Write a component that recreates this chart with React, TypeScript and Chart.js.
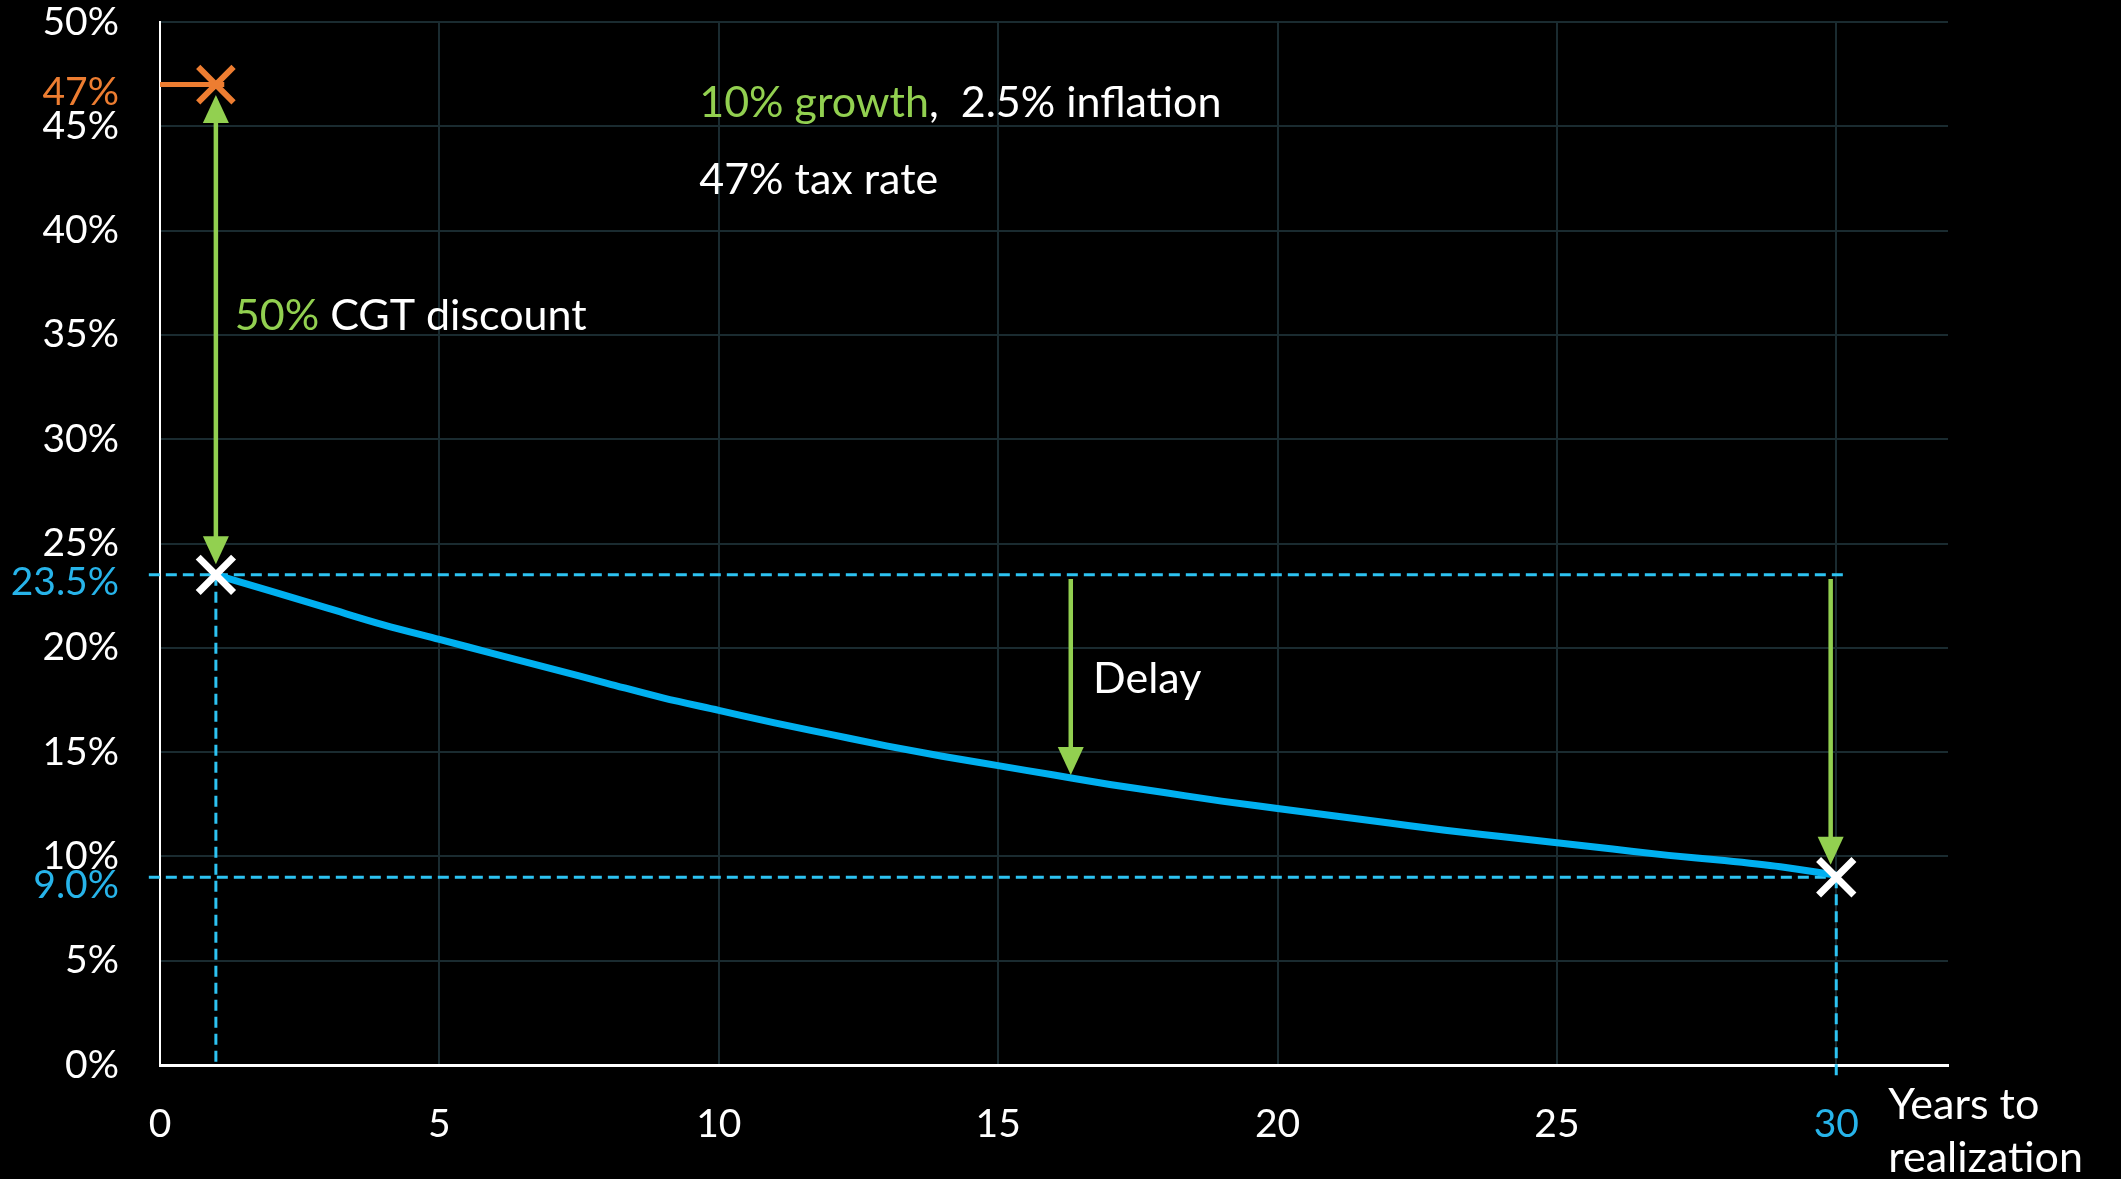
import React, { useEffect, useRef } from "react";
import { Chart, registerables } from "chart.js";

Chart.register(...registerables);

// ---- data ----
const years = [1, 2, 3, 4, 5, 6, 7, 8, 9, 10, 11, 12, 13, 14, 15, 16, 17, 18, 19, 20, 21, 22, 23, 24, 25, 26, 27, 28, 29, 30];
const effectiveTaxRate = [23.5, 22.7, 21.9, 21.1, 20.4, 19.7, 19.0, 18.3, 17.6, 17.0, 16.4, 15.85, 15.3, 14.8, 14.35, 13.9, 13.45, 13.05, 12.65, 12.3, 11.95, 11.6, 11.25, 10.95, 10.65, 10.35, 10.05, 9.8, 9.5, 9.1];
const headlineRate = 47;
const discountedRate = 23.5;
const finalRate = 9.0;
const firstYear = 1;
const lastYear = 30;
const delayYear = 16.3;
const delayTip = 13.9;
const specialYLabels = ["47%", "23.5%", "9.0%"];
const specialYValues = [47, 23.5, 9.0];
const xAxisTitle = ["Years to", "realization"];
const noteLine1Green = "10% growth";
const noteLine1White = ",  2.5% inflation";
const noteLine2 = "47% tax rate";
const discountGreen = "50%";
const discountWhite = " CGT discount";
const delayLabel = "Delay";

const FONT = "Lato, 'Open Sans', sans-serif";
const GREEN = "#92d050";
const ORANGE = "#ed7d31";
const BLUE = "#00b0f0";
const DASH_BLUE = "#2dc3f2";
const LABEL_BLUE = "#27b4ea";
const GRID = "#1a2b30";

function vArrow(ctx: CanvasRenderingContext2D, px: number, yFrom: number, yTo: number, headFrom: boolean, headTo: boolean) {
  const headLen = 28;
  const half = 13;
  const dir = Math.sign(yTo - yFrom);
  ctx.save();
  ctx.strokeStyle = GREEN;
  ctx.fillStyle = GREEN;
  ctx.lineWidth = 4.5;
  const s = headFrom ? yFrom + dir * (headLen - 2) : yFrom;
  const e = headTo ? yTo - dir * (headLen - 2) : yTo;
  ctx.beginPath();
  ctx.moveTo(px, s);
  ctx.lineTo(px, e);
  ctx.stroke();
  const tri = (tipY: number, d: number) => {
    ctx.beginPath();
    ctx.moveTo(px, tipY);
    ctx.lineTo(px - half, tipY - d * headLen);
    ctx.lineTo(px + half, tipY - d * headLen);
    ctx.closePath();
    ctx.fill();
  };
  if (headTo) tri(yTo, dir);
  if (headFrom) tri(yFrom, -dir);
  ctx.restore();
}

function segText(ctx: CanvasRenderingContext2D, x: number, y: number, parts: [string, string][]) {
  let cx = x;
  for (const [t, c] of parts) {
    ctx.fillStyle = c;
    ctx.fillText(t, cx, y);
    cx += ctx.measureText(t).width;
  }
}

const annotationPlugin = {
  id: "annotations",
  afterDraw(chart: any) {
    const { ctx, chartArea } = chart;
    const x = chart.scales.x;
    const y = chart.scales.y;
    ctx.save();
    ctx.font = `39px ${FONT}`;
    ctx.textAlign = "right";
    ctx.textBaseline = "middle";
    specialYLabels.forEach((lab, i) => {
      ctx.fillStyle = i === 0 ? ORANGE : LABEL_BLUE;
      ctx.fillText(lab, chartArea.left - 41, y.getPixelForValue(specialYValues[i]) + 8);
    });
    vArrow(ctx, x.getPixelForValue(firstYear), y.getPixelForValue(24.0), y.getPixelForValue(46.5), true, true);
    vArrow(ctx, x.getPixelForValue(delayYear), y.getPixelForValue(23.3), y.getPixelForValue(delayTip), false, true);
    vArrow(ctx, x.getPixelForValue(29.9), y.getPixelForValue(23.3), y.getPixelForValue(9.6), false, true);
    ctx.font = `43px ${FONT}`;
    ctx.textAlign = "left";
    ctx.textBaseline = "middle";
    segText(ctx, x.getPixelForValue(9.65), y.getPixelForValue(46.1), [[noteLine1Green, GREEN], [noteLine1White, "#ffffff"]]);
    segText(ctx, x.getPixelForValue(9.65), y.getPixelForValue(42.4), [[noteLine2, "#ffffff"]]);
    segText(ctx, x.getPixelForValue(1.34), y.getPixelForValue(35.9), [[discountGreen, GREEN], [discountWhite, "#ffffff"]]);
    segText(ctx, x.getPixelForValue(16.7), y.getPixelForValue(18.5), [[delayLabel, "#ffffff"]]);
    const tx = x.getPixelForValue(lastYear) + 52;
    segText(ctx, tx, chartArea.bottom + 40, [[xAxisTitle[0], "#ffffff"]]);
    segText(ctx, tx, chartArea.bottom + 93, [[xAxisTitle[1], "#ffffff"]]);
    ctx.restore();
  },
};

export default function App() {
  const ref = useRef<HTMLCanvasElement | null>(null);
  useEffect(() => {
    document.body.style.margin = "0";
    document.body.style.background = "#000";
    if (!ref.current) return;
    const dashed = { borderColor: DASH_BLUE, borderWidth: 3, borderDash: [11, 6], pointRadius: 0, clip: false as any, fill: false };
    const chart = new Chart(ref.current, {
      type: "line",
      data: {
        datasets: [
          { data: [{ x: firstYear, y: discountedRate }, { x: lastYear, y: finalRate }], showLine: false, pointStyle: "crossRot", pointRadius: 25, borderColor: "#ffffff", backgroundColor: "#ffffff", pointBorderWidth: 7, clip: false as any } as any,
          { data: [{ x: firstYear, y: headlineRate }], showLine: false, pointStyle: "crossRot", pointRadius: 25, borderColor: ORANGE, backgroundColor: ORANGE, pointBorderWidth: 6, clip: false as any } as any,
          { data: [{ x: 0, y: headlineRate }, { x: 1.15, y: headlineRate }], borderColor: ORANGE, borderWidth: 5, pointRadius: 0, clip: false as any } as any,
          { data: years.map((yr, i) => ({ x: yr, y: effectiveTaxRate[i] })), borderColor: BLUE, borderWidth: 7, pointRadius: 0, cubicInterpolationMode: "monotone" } as any,
          { ...dashed, data: [{ x: -0.2, y: discountedRate }, { x: 30.15, y: discountedRate }] } as any,
          { ...dashed, data: [{ x: -0.2, y: finalRate }, { x: lastYear, y: finalRate }] } as any,
          { ...dashed, data: [{ x: firstYear, y: discountedRate }, { x: firstYear, y: 0 }] } as any,
          { ...dashed, data: [{ x: lastYear, y: finalRate }, { x: lastYear, y: -0.6 }] } as any,
        ],
      },
      options: {
        animation: false,
        responsive: false,
        devicePixelRatio: 1,
        layout: { autoPadding: false, padding: { top: 22, right: 173, left: 0, bottom: 0 } },
        plugins: { legend: { display: false }, tooltip: { enabled: false } },
        scales: {
          x: {
            type: "linear",
            min: 0,
            max: 32,
            afterFit: (s: any) => { s.height = 114; s.paddingLeft = 0; s.paddingRight = 0; },
            border: { color: "#ffffff", width: 3 },
            grid: { color: GRID, lineWidth: 2, drawTicks: false },
            ticks: {
              stepSize: 5,
              includeBounds: false,
              padding: 36,
              font: { family: FONT, size: 39 },
              color: (c: any) => (c.tick && c.tick.value === lastYear ? LABEL_BLUE : "#ffffff"),
            },
          },
          y: {
            min: 0,
            max: 50,
            afterFit: (s: any) => { s.width = 160; s.paddingTop = 0; s.paddingBottom = 0; },
            border: { color: "#ffffff", width: 2 },
            grid: { color: GRID, lineWidth: 2, drawTicks: false },
            ticks: {
              stepSize: 5,
              padding: 41,
              font: { family: FONT, size: 39 },
              color: "#ffffff",
              callback: (v: any) => `${v}%`,
            },
          },
        },
      },
      plugins: [annotationPlugin],
    });
    return () => chart.destroy();
  }, []);
  return (
    <div style={{ width: 2121, height: 1179, background: "#000" }}>
      <canvas ref={ref} width={2121} height={1179} style={{ display: "block" }} />
    </div>
  );
}
